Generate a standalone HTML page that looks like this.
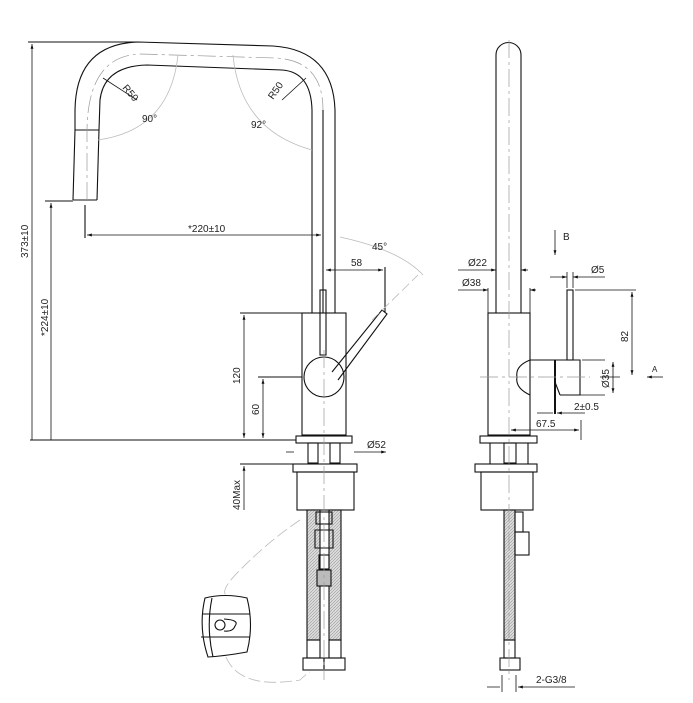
<!DOCTYPE html>
<html><head><style>body{margin:0;background:#fff}svg{display:block}text{font-family:"Liberation Sans",sans-serif;font-size:10px;fill:#222}</style></head><body>
<svg width="693" height="703" viewBox="0 0 693 703" xmlns="http://www.w3.org/2000/svg">
<defs>
<pattern id="h" width="3" height="3" patternUnits="userSpaceOnUse"><rect width="3" height="3" fill="#ddd"/><path d="M0 3L3 0" stroke="#999" stroke-width="0.6"/></pattern>
<marker id="a" viewBox="0 0 10 10" refX="10" refY="5" markerWidth="6" markerHeight="6" orient="auto-start-reverse"><path d="M0 2L10 5L0 8z" fill="#111"/></marker>
</defs>
<g fill="none" stroke="#111" stroke-width="1.1">
<path d="M73 200 L75 130 L75 110 Q76 44 138 42 L273 46 Q333 50 335 110 L335 313"/>
<path d="M97 200 L99 130 L100 100 Q104 66 147 65 L282 70 Q311 72 312 110 L312 313"/>
<path d="M323 110 L323 313"/>
<path d="M75 130 L99 130"/>
<path d="M73 200 L97 200"/>
<rect x="302" y="313" width="44" height="122"/>
<rect x="320" y="290" width="6" height="65"/>
<circle cx="324" cy="377" r="20"/>
<path d="M332 372 L382 310 L387 314 L338 380"/>
<rect x="296" y="436" width="56" height="7"/>
<rect x="308" y="443" width="10" height="20"/><rect x="330" y="443" width="10" height="20"/>
<rect x="293" y="464" width="64" height="8"/>
<rect x="297" y="472" width="57" height="38"/>
<rect x="307" y="510" width="13" height="130" fill="url(#h)"/>
<rect x="329" y="510" width="12" height="130" fill="url(#h)"/>
<rect x="316" y="512" width="16" height="12"/>
<path d="M315 530 L333 530 L333 548 L315 548 Z"/>
<rect x="319" y="555" width="10" height="14"/>
<rect x="317" y="570" width="14" height="16" fill="#bbb"/>
<rect x="307" y="640" width="13" height="18"/><rect x="329" y="640" width="12" height="18"/>
<rect x="303" y="658" width="21" height="12"/><rect x="324" y="658" width="21" height="12"/>
<path d="M205 598 Q225 593 247 598 Q254 625 247 652 Q225 656 208 657 Q198 627 205 598Z"/>
<path d="M212 598 Q206 627 213 657"/>
<path d="M202 614 L250 614 M201 637 L250 637"/>
<circle cx="220" cy="625" r="5"/><path d="M224 619 Q240 620 235 626 Q233 632 224 631"/>
<path d="M28 42 L138 42 M45 201 L73 201 M30 440 L296 440 M240 313 L302 313 M258 377 L302 377 M85 205 L85 238 M385 267 L385 312 M240 464 L293 464"/>
<path d="M32 440 L32 44" marker-end="url(#a)" stroke-width="0.8"/>
<path d="M51 440 L51 203" marker-end="url(#a)" stroke-width="0.8"/>
<path d="M87 235 L321 235" marker-start="url(#a)" marker-end="url(#a)" stroke-width="0.8"/>
<path d="M326 270 L383 270" marker-start="url(#a)" marker-end="url(#a)" stroke-width="0.8"/>
<path d="M244 315 L244 438" marker-start="url(#a)" marker-end="url(#a)" stroke-width="0.8"/>
<path d="M263 379 L263 438" marker-start="url(#a)" marker-end="url(#a)" stroke-width="0.8"/>
<path d="M244 466 L244 510" marker-start="url(#a)" stroke-width="0.8"/>
<path d="M286 452 L294 452 M354 452 L386 452" marker-end="url(#a)" stroke-width="0.8"/>
<!-- right view -->
<path d="M496 313 L496 55 A12.5 12.5 0 0 1 521 55 L521 313"/>
<rect x="488" y="313" width="42" height="122"/>
<rect x="567" y="290" width="6" height="70"/>
<path d="M530 360 L580 360 L580 395 L560 395 M530 395 Q515 388 517 377 Q515 366 530 360"/>
<path d="M555 360 L555 414" stroke-width="2"/>
<path d="M555 382 L560 395"/>
<rect x="480" y="436" width="57" height="7"/>
<path d="M490 443 L490 464 M528 443 L528 464"/>
<rect x="504" y="443" width="12" height="20"/>
<rect x="475" y="464" width="62" height="8"/>
<rect x="481" y="472" width="52" height="38"/>
<rect x="504" y="510" width="11" height="130" fill="url(#h)"/>
<rect x="515" y="512" width="8" height="20"/><rect x="515" y="532" width="14" height="23"/>
<rect x="504" y="640" width="11" height="18"/>
<rect x="500" y="658" width="20" height="12"/>
<path d="M488 288 L488 313 M530 288 L530 313 M575 290 L636 290 M600 377 L620 377 M582 360 L605 360 M560 395 L605 395 M581 420 L581 440 M516 675 L516 692 M502 675 L502 692 M530 687 L575 687 M567 272 L567 288 M573 272 L573 288" stroke-width="0.8"/>
<path d="M458 270 L496 270" marker-end="url(#a)" stroke-width="0.8"/>
<path d="M528 270 L521 270" marker-end="url(#a)" stroke-width="0.8"/>
<path d="M458 290 L488 290" marker-end="url(#a)" stroke-width="0.8"/>
<path d="M536 290 L530 290" marker-end="url(#a)" stroke-width="0.8"/>
<path d="M550 277 L567 277" marker-end="url(#a)" stroke-width="0.8"/>
<path d="M605 277 L573 277" marker-end="url(#a)" stroke-width="0.8"/>
<path d="M555 230 L555 255" marker-end="url(#a)" stroke-width="0.8"/>
<path d="M632 292 L632 375" marker-start="url(#a)" marker-end="url(#a)" stroke-width="0.8"/>
<path d="M613 362 L613 393" marker-start="url(#a)" marker-end="url(#a)" stroke-width="0.8"/>
<path d="M663 377 L647 377" marker-end="url(#a)" stroke-width="0.8"/>
<path d="M511 430 L579 430" marker-start="url(#a)" marker-end="url(#a)" stroke-width="0.8"/>
<path d="M537 413 L553 413 M585 413 L557 413" marker-end="url(#a)" stroke-width="0.8"/>
<path d="M487 687 L500 687 M530 687 L518 687" marker-end="url(#a)" stroke-width="0.8"/>
</g>
<g fill="none" stroke="#999" stroke-width="0.7" stroke-dasharray="18 4 3 4">
<path d="M87 200 L87 130 Q88 56 140 54 L275 58 Q323 60 323 110"/>
<path d="M324 350 L324 680"/>
<path d="M509 40 L509 680"/>
<path d="M480 377 L590 377"/>
</g>
<g fill="none" stroke="#bbb" stroke-width="0.8">
<path d="M98 140 Q170 130 178 55"/>
<path d="M233 55 Q240 130 312 150"/>
<path d="M340 237 Q400 250 423 275"/>
<path d="M372 320 L418 275" stroke-dasharray="10 4"/>
<path d="M300 520 Q270 540 240 570 Q220 590 226 595" stroke-dasharray="12 4"/>
<path d="M226 657 Q240 690 300 680 Q305 675 310 672" stroke-dasharray="12 4"/>
</g>
<g stroke="#111" stroke-width="0.8">
<path d="M103 78 L137 100 M282 100 L306 78"/>
</g>
<text x="0" y="0" transform="translate(122 88) rotate(50)">R50</text>
<text x="0" y="0" transform="translate(273 100) rotate(-55)">R50</text>
<text x="142" y="122">90°</text>
<text x="251" y="128">92°</text>
<text x="188" y="232">*220±10</text>
<text x="372" y="250">45°</text>
<text x="351" y="266">58</text>
<text x="0" y="0" transform="translate(28 258) rotate(-90)">373±10</text>
<text x="0" y="0" transform="translate(48 336) rotate(-90)">*224±10</text>
<text x="0" y="0" transform="translate(240 384) rotate(-90)">120</text>
<text x="0" y="0" transform="translate(259 415) rotate(-90)">60</text>
<text x="0" y="0" transform="translate(240 510) rotate(-90)">40Max</text>
<text x="367" y="448">Ø52</text>
<text x="563" y="240">B</text>
<text x="468" y="266">Ø22</text>
<text x="462" y="286">Ø38</text>
<text x="591" y="273">Ø5</text>
<text x="0" y="0" transform="translate(628 342) rotate(-90)">82</text>
<text x="0" y="0" transform="translate(609 388) rotate(-90)">Ø35</text>
<text x="652" y="372" style="font-size:8px">A</text>
<text x="574" y="410">2±0.5</text>
<text x="536" y="427">67.5</text>
<text x="536" y="683">2-G3/8</text>
</svg>
</body></html>
